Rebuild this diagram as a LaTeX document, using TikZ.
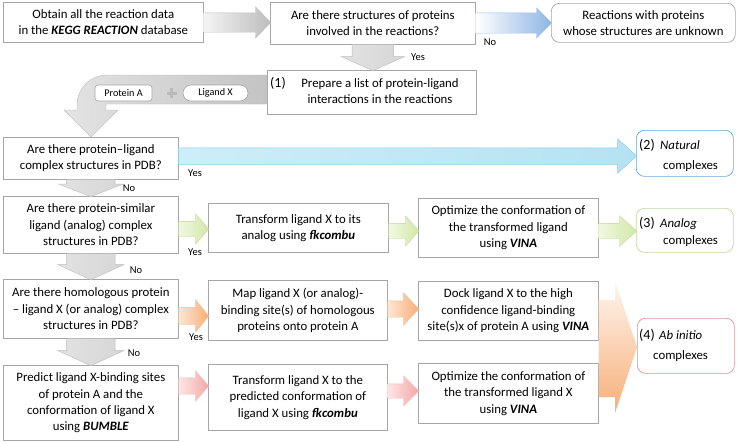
\documentclass[tikz,border=0pt]{standalone}
\usepackage{fontspec}
\setmainfont{Carlito}
\usetikzlibrary{shapes.arrows,calc}
\definecolor{boxline}{HTML}{A6A6A6}
\definecolor{grayA}{HTML}{F4F4F4}
\definecolor{grayB}{HTML}{BDBDBD}
\definecolor{grayD}{HTML}{D6D6D6}
\definecolor{blueA}{HTML}{FFFFFF}
\definecolor{blueB}{HTML}{8EB4E3}
\definecolor{cyanA}{HTML}{CDEEF8}
\definecolor{cyanB}{HTML}{B5E2F2}
\definecolor{cyanL}{HTML}{8ECCE0}
\definecolor{greenA}{HTML}{F1F8E2}
\definecolor{greenB}{HTML}{D2E8A8}
\definecolor{greenL}{HTML}{C3D69B}
\definecolor{orangeA}{HTML}{FDE6D3}
\definecolor{orangeB}{HTML}{F8AE78}
\definecolor{pinkA}{HTML}{FDE6E6}
\definecolor{pinkB}{HTML}{F3A8A8}
\definecolor{natL}{HTML}{6FA3D8}
\definecolor{abL}{HTML}{D99694}
\newcommand\mainfs{\fontsize{12.8}{16.3}\selectfont}
\newcommand\labfs{\fontsize{10.5}{12}\selectfont}
\newcommand\numfs{\fontsize{14}{16}\selectfont}
\newcommand\bi[1]{\textbf{\textit{#1}}}
\begin{document}
\begin{tikzpicture}[x=1pt,y=-1pt,
  box/.style={draw=boxline, line width=0.7pt, fill=white, align=center, inner sep=0pt, anchor=north west, font=\mainfs},
  rbox/.style={box, rounded corners=8pt},
  txt/.style={inner sep=0pt, align=center, font=\mainfs},
  lab/.style={inner sep=0pt, font=\labfs},
  num/.style={inner sep=0pt, anchor=base west, font=\numfs},
  side/.style={inner sep=0pt, anchor=base west, font=\mainfs},
  tag/.style={draw=boxline, line width=0.6pt, fill=white, inner sep=0pt, minimum height=16pt, font=\fontsize{10.2}{12}\selectfont},
  blockarrow/.style={single arrow, inner xsep=0pt, outer sep=0pt, anchor=tail, single arrow head indent=0pt},
  grayh/.style={blockarrow, left color=grayA, right color=grayB, draw=grayB!80!black!60, line width=0.4pt},
  grayv/.style={blockarrow, rotate=-90, left color=grayD!70!white, right color=grayD, draw=grayB, line width=0.4pt},
  blueh/.style={blockarrow, left color=blueA, right color=blueB, draw=blueB!80, line width=0.4pt},
  cyanh/.style={blockarrow, left color=cyanA, right color=cyanB, draw=cyanL, line width=0.5pt},
  greenh/.style={blockarrow, left color=greenA, right color=greenB, draw=greenL, line width=0.4pt},
  orangeh/.style={blockarrow, left color=orangeA, right color=orangeB, draw=orangeB!80, line width=0.4pt},
  pinkh/.style={blockarrow, left color=pinkA, right color=pinkB, draw=pinkB!80, line width=0.4pt}
]
\useasboundingbox (0,0) rectangle (738,442);
\fill[white] (0,0) rectangle (738,442);

% ---- boxes
\node[box, minimum width=200pt, minimum height=40pt] (b1) at (3,2) {Obtain all the reaction data\\in the \bi{KEGG REACTION} database};
\node[box, minimum width=205pt, minimum height=42pt] (b2) at (270,2) {Are there structures of proteins\\involved in the reactions?};
\node[rbox, minimum width=184pt, minimum height=39pt] (b3) at (551,3) {Reactions with proteins\\whose structures are unknown};
\node[box, minimum width=209pt, minimum height=44pt] (p1) at (267,70) {};
\node[txt] (p1t) at (380,91) {Prepare a list of protein-ligand\\interactions in the reactions};
\node[num] (p1n) at (270,87.5) {(1)};

\node[box, minimum width=175pt, minimum height=42pt] (pl) at (3,137) {Are there protein–ligand\\complex structures in PDB?};
\node[box, minimum width=175pt, minimum height=57pt] (ps) at (3,196) {Are there protein-similar\\ligand (analog) complex\\structures in PDB?};
\node[box, minimum width=175pt, minimum height=59pt] (hom) at (3,279) {Are there homologous protein\\– ligand X (or analog) complex\\structures in PDB?};
\node[box, minimum width=175pt, minimum height=75pt] (pr) at (3,365) {Predict ligand X-binding sites\\of protein A and the\\conformation of ligand X\\using \bi{BUMBLE}};

\node[box, minimum width=180pt, minimum height=49pt] (tr) at (208,203) {Transform ligand X to its\\analog using \bi{fkcombu}};
\node[box, minimum width=179pt, minimum height=60pt] (map) at (208,280) {Map ligand X (or analog)-\\binding site(s) of homologous\\proteins onto protein A};
\node[box, minimum width=179pt, minimum height=66pt] (tr2) at (208,364) {Transform ligand X to the\\predicted conformation of\\ligand X using \bi{fkcombu}};

\node[box, minimum width=180pt, minimum height=59pt] (op1) at (418,198) {Optimize the conformation of\\the transformed ligand\\using \bi{VINA}};
\node[box, minimum width=180pt, minimum height=59pt] (dock) at (418,281) {Dock ligand X to the high\\confidence ligand-binding\\site(s)x of protein A using \bi{VINA}};
\node[box, minimum width=180pt, minimum height=60pt] (op2) at (418,363) {Optimize the conformation of\\the transformed ligand X\\using \bi{VINA}};

\node[rbox, draw=natL, minimum width=97pt, minimum height=46pt] (nat) at (636,130) {};
\node[num] (natn) at (639,149) {(2)};
\node[side] (natw) at (660,149) {\textit{Natural}};
\node[side] (natc) at (663,169) {complexes};

\node[rbox, draw=greenL, minimum width=97pt, minimum height=44pt] (an) at (636,208) {};
\node[num] (ann) at (639,227) {(3)};
\node[side] (anw) at (660,227) {\textit{Analog}};
\node[side] (anc) at (663,244) {complexes};

% ---- big merging orange arrow
\shade[top color=orangeA!40, bottom color=orangeB]
  (dock.east |- 0,300) -- (615,300) -- (615,281) -- (637,347) -- (615,413) -- (615,397) -- (op2.east |- 0,397) -- cycle;

\node[rbox, draw=abL, minimum width=97pt, minimum height=55pt] (ab) at (637,318) {};
\node[num] (abn) at (639,339) {(4)};
\node[side] (abw) at (659,339) {\textit{Ab initio}};
\node[side] (abc) at (653,359) {complexes};

% ---- block arrows: inner ysep = half shaft width
\node[grayh, inner ysep=9.5pt, minimum height=67pt, single arrow head extend=6pt, single arrow tip angle=92] (a1) at (b1.east |- 0,22.5) {};
\node[blueh, inner ysep=10pt, minimum height=76pt, single arrow head extend=5pt, single arrow tip angle=90] (a2) at (b2.east |- 0,23) {};
\node[grayv, inner ysep=20.5pt, minimum height=26pt, single arrow head extend=11pt, single arrow tip angle=132] (d1) at (b2.south) {};

% curved arrow from (1) to first question
\shade[left color=grayA!70!grayB, right color=grayB!90, draw=grayB, line width=0.4pt]
  (p1.west |- 0,75) [rounded corners=30pt] -- (77,75) [sharp corners] -- (77,110) -- (64,110) -- (pl.north) -- (118,110) -- (106,110) -- (106,104) -- (p1.west |- 0,104) -- cycle;
\node[tag, rounded corners=3pt, minimum width=57pt] (pa) at (123.5,93) {Protein A};
\node[tag, rounded corners=8pt, minimum width=65pt] (lx) at (215.5,93) {Ligand X};
\draw[gray!55, line width=3pt] (166.5,93) -- (176.5,93) (171.5,88) -- (171.5,98);

\node[cyanh, inner ysep=8pt, minimum height=458pt, single arrow head extend=9pt, single arrow tip angle=84] (cy) at (pl.east |- 0,156) {};
\node[grayv, inner ysep=24pt, minimum height=17pt, single arrow head extend=8pt, single arrow tip angle=137] (d2) at (pl.south) {};
\node[greenh, inner ysep=7.5pt, minimum height=30pt, single arrow head extend=7.5pt, single arrow tip angle=98] (g1) at (ps.east |- 0,229) {};
\node[greenh, inner ysep=7.5pt, minimum height=30pt, single arrow head extend=7.5pt, single arrow tip angle=98] (g2) at (tr.east |- 0,231) {};
\node[greenh, inner ysep=7.5pt, minimum height=38pt, single arrow head extend=7.5pt, single arrow tip angle=83] (g3) at (op1.east |- 0,231) {};
\node[grayv, inner ysep=24pt, minimum height=26pt, single arrow head extend=9pt, single arrow tip angle=131] (d3) at (ps.south) {};
\node[orangeh, inner ysep=8.5pt, minimum height=30pt, single arrow head extend=7.5pt, single arrow tip angle=102] (o1) at (hom.east |- 0,316) {};
\node[orangeh, inner ysep=8pt, minimum height=31pt, single arrow head extend=8pt, single arrow tip angle=94] (o2) at (map.east |- 0,309) {};
\node[grayv, inner ysep=24pt, minimum height=27pt, single arrow head extend=9pt, single arrow tip angle=131] (d4) at (hom.south) {};
\node[pinkh, inner ysep=8pt, minimum height=30pt, single arrow head extend=7pt, single arrow tip angle=98] (k1) at (pr.east |- 0,386) {};
\node[pinkh, inner ysep=7pt, minimum height=31pt, single arrow head extend=8pt, single arrow tip angle=90] (k2) at (tr2.east |- 0,391) {};

% ---- yes / no labels
\node[lab] (n1) at (490,42) {No};
\node[lab] (y1) at (418,57) {Yes};
\node[lab] (y2) at (195,173) {Yes};
\node[lab] (n2) at (129,188) {No};
\node[lab] (y3) at (195,252) {Yes};
\node[lab] (n3) at (136,270) {No};
\node[lab] (y4) at (196,337) {Yes};
\node[lab] (n4) at (134,353) {No};
\end{tikzpicture}
\end{document}
